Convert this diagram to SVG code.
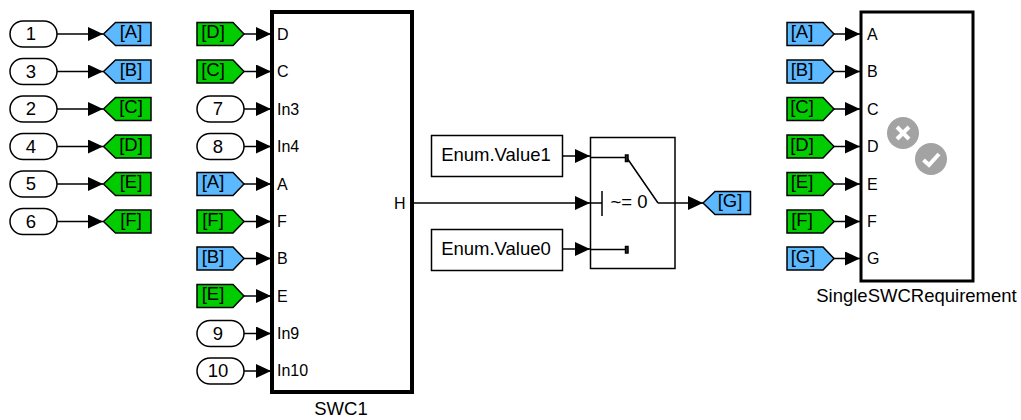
<svg xmlns="http://www.w3.org/2000/svg" width="1021" height="420" viewBox="0 0 1021 420">
<style>
text{font-family:"Liberation Sans",Arial,sans-serif;fill:#000}
.b{fill:#fff;stroke:#000;stroke-width:1.5}
.n{font-size:18.500px;text-anchor:middle}
.t{font-size:18.500px;text-anchor:middle}
.p{font-size:16px}
.c{font-size:18.500px;text-anchor:middle}
.big{fill:#fff;stroke:#000;stroke-width:4}
.blue{fill:#5cb8ff;stroke:#000;stroke-width:1.5}
.green{fill:#00cc00;stroke:#000;stroke-width:1.5}
.w{stroke:#000;stroke-width:1.5;fill:none}
</style>
<defs>
<marker id="a" markerUnits="userSpaceOnUse" markerWidth="15" markerHeight="14" refX="15" refY="7" orient="auto"><path d="M0 0L15 7L0 14Z" fill="#000"/></marker>
<filter id="soft" x="-20%" y="-20%" width="140%" height="140%"><feGaussianBlur stdDeviation="0.7"/></filter>
<rect id="port" class="b" x="0" y="-13" width="47" height="26" rx="13"/>
<path id="gt" d="M0 0L12 -11.500H47.500V11.500H12Z"/>
<path id="fr" d="M0 -11.500H36L47 0L36 11.500H0Z"/>
</defs>
<g id="in1"><use href="#port" x="10" y="34"/><text class="n" x="31" y="40">1</text></g>
<g id="in3"><use href="#port" x="10" y="71.500"/><text class="n" x="31" y="78">3</text></g>
<g id="in2"><use href="#port" x="10" y="109"/><text class="n" x="31" y="115">2</text></g>
<g id="in4"><use href="#port" x="10" y="146.500"/><text class="n" x="31" y="153">4</text></g>
<g id="in5"><use href="#port" x="10" y="184"/><text class="n" x="31" y="190">5</text></g>
<g id="in6"><use href="#port" x="10" y="221.500"/><text class="n" x="31" y="228">6</text></g>
<g id="gotoA"><use href="#gt" class="blue" x="103.500" y="34"/><text class="t" x="131" y="38">[A]</text></g>
<g id="gotoB"><use href="#gt" class="blue" x="103.500" y="71.500"/><text class="t" x="131" y="76">[B]</text></g>
<g id="gotoC"><use href="#gt" class="green" x="103.500" y="109"/><text class="t" x="131" y="113">[C]</text></g>
<g id="gotoD"><use href="#gt" class="green" x="103.500" y="146.500"/><text class="t" x="131" y="151">[D]</text></g>
<g id="gotoE"><use href="#gt" class="green" x="103.500" y="184"/><text class="t" x="131" y="188">[E]</text></g>
<g id="gotoF"><use href="#gt" class="green" x="103.500" y="221.500"/><text class="t" x="131" y="226">[F]</text></g>
<g id="fromD"><use href="#fr" class="green" x="197" y="34"/><text class="t" x="213" y="38">[D]</text></g>
<g id="fromC"><use href="#fr" class="green" x="197" y="71.500"/><text class="t" x="213" y="76">[C]</text></g>
<g id="in7"><use href="#port" x="197" y="109"/><text class="n" x="218" y="115">7</text></g>
<g id="in8"><use href="#port" x="197" y="146.500"/><text class="n" x="218" y="153">8</text></g>
<g id="fromA"><use href="#fr" class="blue" x="197" y="184"/><text class="t" x="213" y="188">[A]</text></g>
<g id="fromF"><use href="#fr" class="green" x="197" y="221.500"/><text class="t" x="213" y="226">[F]</text></g>
<g id="fromB"><use href="#fr" class="blue" x="197" y="258.500"/><text class="t" x="213" y="263">[B]</text></g>
<g id="fromE"><use href="#fr" class="green" x="197" y="296"/><text class="t" x="213" y="300">[E]</text></g>
<g id="in9"><use href="#port" x="197" y="333.500"/><text class="n" x="218" y="340">9</text></g>
<g id="in10"><use href="#port" x="197" y="371"/><text class="n" x="218" y="377">10</text></g>
<g id="swc1">
<rect class="big" x="272" y="12" width="140" height="380"/>
<g class="p"><text x="277" y="39.500">D</text><text x="277" y="77">C</text><text x="277" y="114.500">In3</text><text x="277" y="152">In4</text><text x="277" y="189.500">A</text><text x="277" y="227">F</text><text x="277" y="264">B</text><text x="277" y="301.500">E</text><text x="277" y="339">In9</text><text x="277" y="376">In10</text><text x="394" y="208.500">H</text></g>
<text class="c" x="341" y="415">SWC1</text>
</g>
<g id="const1"><rect class="b" x="431.500" y="135.500" width="131" height="41"/><text class="c" x="496" y="160.500">Enum.Value1</text></g>
<g id="const0"><rect class="b" x="431.500" y="229.500" width="131" height="41"/><text class="c" x="496" y="254.500">Enum.Value0</text></g>
<g id="switch">
<rect x="590.500" y="137.500" width="84.500" height="131" fill="#fff" stroke="#000" stroke-width="1.500"/>
<path class="w" d="M590 157.500H625M590 203H602M602 191V216M590 249.500H625M627 158L658 203"/>
<rect x="625.500" y="155" width="2.500" height="6.500" fill="#333" stroke="#000" stroke-width="1.500"/>
<rect x="625.500" y="246.500" width="2.500" height="6.500" fill="#333" stroke="#000" stroke-width="1.500"/>
<text x="610.500" y="207.500" font-size="18.500">~= 0</text>
</g>
<g id="gotoG"><use href="#gt" class="blue" x="703" y="203"/><text class="t" x="730" y="207">[G]</text></g>
<g id="fromA2"><use href="#fr" class="blue" x="787" y="34"/><text class="t" x="802" y="38">[A]</text></g>
<g id="fromB2"><use href="#fr" class="blue" x="787" y="71.500"/><text class="t" x="802" y="76">[B]</text></g>
<g id="fromC2"><use href="#fr" class="green" x="787" y="109"/><text class="t" x="802" y="113">[C]</text></g>
<g id="fromD2"><use href="#fr" class="green" x="787" y="146.500"/><text class="t" x="802" y="151">[D]</text></g>
<g id="fromE2"><use href="#fr" class="green" x="787" y="184"/><text class="t" x="802" y="188">[E]</text></g>
<g id="fromF2"><use href="#fr" class="green" x="787" y="221.500"/><text class="t" x="802" y="226">[F]</text></g>
<g id="fromG2"><use href="#fr" class="blue" x="787" y="258.500"/><text class="t" x="803" y="263">[G]</text></g>
<g id="req">
<rect x="861" y="12" width="112" height="269" fill="#fff" stroke="#000" stroke-width="3"/>
<g class="p"><text x="867" y="39.500">A</text><text x="867" y="77">B</text><text x="867" y="114.500">C</text><text x="867" y="152">D</text><text x="867" y="189.500">E</text><text x="867" y="227">F</text><text x="867" y="264">G</text></g>
<circle cx="903" cy="133" r="16" fill="#a3a3a3" filter="url(#soft)"/>
<path d="M897 127L909 139M909 127L897 139" stroke="#fff" stroke-width="4" fill="none" filter="url(#soft)"/>
<circle cx="931" cy="159" r="16" fill="#a3a3a3" filter="url(#soft)"/>
<path d="M923.500 160L929 165L939 154" stroke="#fff" stroke-width="4" fill="none" filter="url(#soft)"/>
<text class="c" x="916.500" y="302">SingleSWCRequirement</text>
</g>
<g id="connectors">
<path class="w" marker-end="url(#a)" d="M57 34H103"/>
<path class="w" marker-end="url(#a)" d="M57 71.500H103"/>
<path class="w" marker-end="url(#a)" d="M57 109H103"/>
<path class="w" marker-end="url(#a)" d="M57 146.500H103"/>
<path class="w" marker-end="url(#a)" d="M57 184H103"/>
<path class="w" marker-end="url(#a)" d="M57 221.500H103"/>
<path class="w" marker-end="url(#a)" d="M244 34H271"/>
<path class="w" marker-end="url(#a)" d="M244 71.500H271"/>
<path class="w" marker-end="url(#a)" d="M244 109H271"/>
<path class="w" marker-end="url(#a)" d="M244 146.500H271"/>
<path class="w" marker-end="url(#a)" d="M244 184H271"/>
<path class="w" marker-end="url(#a)" d="M244 221.500H271"/>
<path class="w" marker-end="url(#a)" d="M244 258.500H271"/>
<path class="w" marker-end="url(#a)" d="M244 296H271"/>
<path class="w" marker-end="url(#a)" d="M244 333.500H271"/>
<path class="w" marker-end="url(#a)" d="M244 371H271"/>
<path class="w" marker-end="url(#a)" d="M563 156H590"/>
<path class="w" marker-end="url(#a)" d="M413 203H590"/>
<path class="w" marker-end="url(#a)" d="M563 249H590"/>
<path class="w" marker-end="url(#a)" d="M658 203H703"/>
<path class="w" marker-end="url(#a)" d="M833 34H860"/>
<path class="w" marker-end="url(#a)" d="M833 71.500H860"/>
<path class="w" marker-end="url(#a)" d="M833 109H860"/>
<path class="w" marker-end="url(#a)" d="M833 146.500H860"/>
<path class="w" marker-end="url(#a)" d="M833 184H860"/>
<path class="w" marker-end="url(#a)" d="M833 221.500H860"/>
<path class="w" marker-end="url(#a)" d="M833 258.500H860"/>
</g>
</svg>
